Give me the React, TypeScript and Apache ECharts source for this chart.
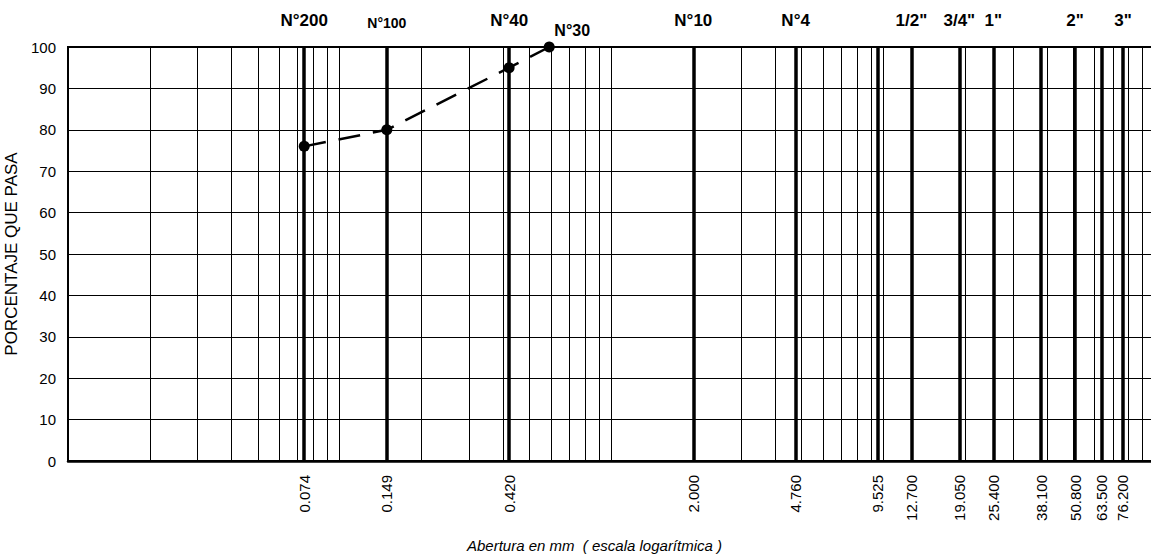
import React, { useEffect, useRef } from "react";
import * as echarts from "echarts";

// Sieve openings (mm) drawn as bold vertical lines and their names
const sieveSizes = [0.074, 0.149, 0.42, 2.0, 4.76, 9.525, 12.7, 19.05, 25.4, 38.1, 50.8, 63.5, 76.2];
const sieveNames = ["N°200", "N°100", "N°40", "N°10", "N°4", "", "1/2\"", "3/4\"", "1\"", "", "2\"", "", "3\""];
// extra sieve labelled without a bold line
const extraSieveSize = 0.59;
const extraSieveName = "N°30";

// log-paper minor grid (mm)
const minorGrid = [
  0.02, 0.03, 0.04, 0.05, 0.06, 0.07, 0.08, 0.09, 0.1,
  0.2, 0.3, 0.4, 0.5, 0.6, 0.7, 0.8, 0.9, 1,
  2, 3, 4, 5, 6, 7, 8, 9, 10,
  20, 30, 40, 50, 60, 70, 80, 90,
];

// grading curve
const openings = [0.074, 0.149, 0.42, 0.59];
const passing = [76, 80, 95, 100];

const FONT = "Liberation Sans, Arial, sans-serif";

export default function App() {
  const ref = useRef<HTMLDivElement>(null);
  useEffect(() => {
    if (!ref.current) return;
    const chart = echarts.init(ref.current, undefined, { renderer: "svg" });
    const topLabel = (name: string, fontSize: number, distance: number, padLeft = 0) => ({
      show: true,
      position: "end",
      formatter: name,
      distance,
      color: "#000",
      fontFamily: FONT,
      fontWeight: "bold",
      fontSize,
      padding: [0, 0, 0, padLeft],
    });
    const boldData: any[] = sieveSizes.map((v, i) => ({
      xAxis: v,
      label: sieveNames[i]
        ? topLabel(sieveNames[i], sieveNames[i] === "N°100" ? 14 : 17, sieveNames[i] === "N°100" ? 17 : 18)
        : { show: false },
    }));
    boldData.push({
      xAxis: extraSieveSize,
      lineStyle: { color: "rgba(0,0,0,0)", width: 1 },
      label: topLabel(extraSieveName, 16, 9, 46),
    });

    chart.setOption({
      animation: false,
      grid: {
        left: 68,
        right: -4,
        top: 47,
        bottom: 94,
        outerBoundsMode: "none",
        containLabel: false,
        show: true,
        borderColor: "#000",
        borderWidth: 2,
        backgroundColor: "#fff",
      },
      xAxis: {
        type: "log",
        logBase: 10,
        min: 0.01,
        max: 100,
        name: "Abertura en mm  ( escala logarítmica )",
        nameLocation: "middle",
        nameGap: 77,
        nameTextStyle: {
          fontFamily: FONT,
          fontStyle: "italic",
          fontSize: 15,
          color: "#000",
          padding: [0, 34, 0, 0],
        },
        axisLine: { show: true, lineStyle: { color: "#000", width: 2.5 } },
        axisTick: { show: false },
        splitLine: { show: false },
        minorTick: { show: false },
        minorSplitLine: { show: false },
        axisLabel: {
          customValues: sieveSizes,
          formatter: (v: number) => Number(v).toFixed(3),
          rotate: 90,
          margin: 14,
          fontSize: 15,
          fontFamily: FONT,
          color: "#000",
        },
      },
      yAxis: {
        type: "value",
        min: 0,
        max: 100,
        interval: 10,
        name: "PORCENTAJE QUE PASA",
        nameLocation: "middle",
        nameRotate: 90,
        nameGap: 47,
        nameTextStyle: { fontFamily: FONT, fontSize: 17, color: "#000" },
        axisLine: { show: true, lineStyle: { color: "#000", width: 2 } },
        axisTick: { show: false },
        splitLine: { show: true, lineStyle: { color: "#000", width: 1 } },
        axisLabel: { fontSize: 15, margin: 12, fontFamily: FONT, color: "#000" },
      },
      series: [
        {
          type: "line",
          data: [],
          z: 1,
          silent: true,
          markLine: {
            silent: true,
            animation: false,
            precision: 6,
            symbol: ["none", "none"],
            label: { show: false },
            lineStyle: { color: "#000", width: 1, type: "solid" },
            data: minorGrid.map((v) => ({ xAxis: v })),
          },
        },
        {
          type: "line",
          data: [],
          z: 2,
          silent: true,
          markLine: {
            silent: true,
            animation: false,
            precision: 6,
            symbol: ["none", "none"],
            lineStyle: { color: "#000", width: 3.5, type: "solid" },
            data: boldData,
          },
        },
        {
          type: "line",
          z: 3,
          clip: false,
          data: openings.map((x, i) => [x, passing[i]]),
          symbol: "circle",
          symbolSize: 11,
          itemStyle: { color: "#000" },
          lineStyle: { color: "#000", width: 2.5, type: [22, 13] },
        },
      ],
    });
    return () => chart.dispose();
  }, []);
  return (
    <div
      ref={ref}
      style={{ position: "fixed", left: 0, top: 0, width: 1151, height: 555, background: "#fff" }}
    />
  );
}
